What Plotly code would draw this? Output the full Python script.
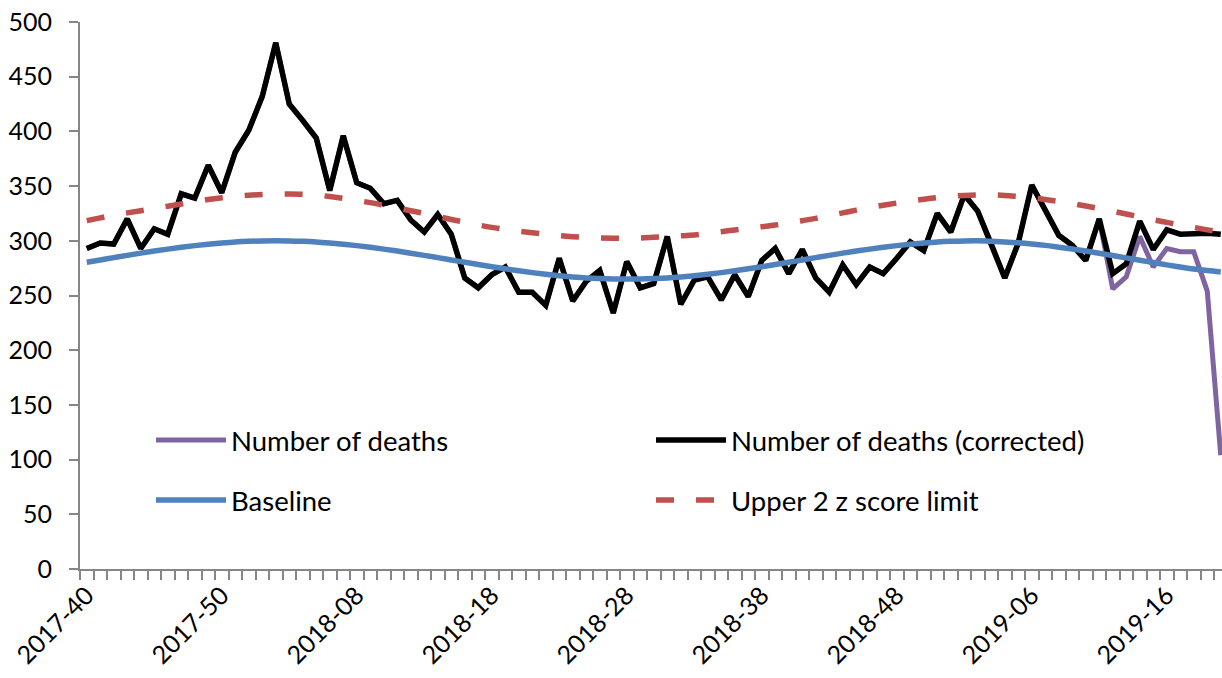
import plotly.graph_objects as go

# ISO weeks 2017-40 .. 2019-20
weeks = (
    [f"2017-{w:02d}" for w in range(40, 53)]
    + [f"2018-{w:02d}" for w in range(1, 53)]
    + [f"2019-{w:02d}" for w in range(1, 21)]
)
label_weeks = ["2017-40", "2017-50", "2018-08", "2018-18", "2018-28",
               "2018-38", "2018-48", "2019-06", "2019-16"]

deaths_corrected = [
    293, 298, 297, 320, 293, 311, 306, 343, 339, 369,
    344, 381, 401, 432, 481, 425, 410, 394, 346, 396,
    353, 348, 334, 337, 319, 308, 324, 306, 266, 257,
    269, 276, 253, 253, 241, 284, 245, 263, 273, 234,
    281, 257, 261, 304, 242, 264, 267, 246, 269, 249,
    282, 293, 270, 292, 266, 253, 278, 260, 276, 270,
    284, 299, 291, 325, 308, 342, 327, 298, 266, 298,
    351, 328, 305, 296, 282, 320, 270, 279, 318, 292,
    310, 306, 307, 307, 306,
]

deaths = [
    293, 298, 297, 320, 293, 311, 306, 343, 339, 369,
    344, 381, 401, 432, 481, 425, 410, 394, 346, 396,
    353, 348, 334, 337, 319, 308, 324, 306, 266, 257,
    269, 276, 253, 253, 241, 284, 245, 263, 273, 234,
    281, 257, 261, 304, 242, 264, 267, 246, 269, 249,
    282, 293, 270, 292, 266, 253, 278, 260, 276, 270,
    284, 299, 291, 325, 308, 342, 327, 298, 266, 298,
    351, 328, 305, 296, 282, 320, 256, 267, 304, 276,
    293, 290, 290, 254, 104,
]

baseline = [
    280.4, 282.5, 284.6, 286.7, 288.7, 290.6, 292.4, 294.1, 295.6, 296.9,
    298.0, 298.9, 299.5, 299.9, 300.0, 299.9, 299.5, 298.9, 298.0, 296.9,
    295.6, 294.1, 292.4, 290.6, 288.7, 286.7, 284.6, 282.5, 280.4, 278.3,
    276.3, 274.4, 272.6, 270.9, 269.4, 268.1, 267.0, 266.1, 265.5, 265.1,
    265.0, 265.1, 265.5, 266.1, 267.0, 268.1, 269.4, 270.9, 272.6, 274.4,
    276.3, 278.3, 280.4, 282.5, 284.6, 286.7, 288.7, 290.6, 292.4, 294.1,
    295.6, 296.9, 298.0, 298.9, 299.5, 299.9, 300.0, 299.6, 299.0, 298.2,
    297.1, 295.8, 294.2, 292.5, 290.6, 288.6, 286.5, 284.4, 282.2, 280.1,
    278.0, 276.1, 274.3, 272.8, 271.5,
]

upper_limit = [
    318.4, 321.0, 323.5, 325.5, 327.5, 329.5, 331.6, 333.6, 335.6, 337.8,
    339.4, 340.6, 341.6, 342.3, 342.7, 342.8, 342.6, 341.8, 340.5, 338.8,
    336.9, 334.9, 332.5, 330.0, 327.5, 325.0, 322.3, 319.5, 317.0, 314.5,
    312.3, 310.5, 308.8, 307.4, 306.0, 304.8, 303.8, 303.0, 302.5, 302.3,
    302.3, 302.6, 303.2, 303.8, 304.5, 305.3, 306.8, 308.3, 309.9, 311.4,
    312.9, 314.4, 316.4, 318.4, 320.5, 323.0, 325.5, 328.0, 330.3, 332.5,
    334.5, 336.3, 338.0, 339.5, 340.6, 341.5, 342.0, 342.0, 341.5, 340.5,
    339.4, 337.8, 336.0, 334.0, 331.8, 329.4, 327.0, 324.5, 321.8, 319.2,
    316.8, 314.5, 312.2, 310.0, 308.0,
]

FONT = "Lato, Arial, sans-serif"
W, H = 1222, 678
M_L, M_R, M_T, M_B = 80, 0, 22, 109
PLOT_W, PLOT_H = W - M_L - M_R, H - M_T - M_B

fig = go.Figure()
fig.add_trace(go.Scatter(x=weeks, y=deaths, mode="lines", name="Number of deaths",
                         line=dict(color="#8064A2", width=5), legend="legend"))
fig.add_trace(go.Scatter(x=weeks, y=deaths_corrected, mode="lines",
                         name="Number of deaths (corrected)",
                         line=dict(color="black", width=5.5), legend="legend2"))
fig.add_trace(go.Scatter(x=weeks, y=baseline, mode="lines", name="Baseline",
                         line=dict(color="#4F81BD", width=5.5, shape="spline"),
                         legend="legend3"))
fig.add_trace(go.Scatter(x=weeks, y=upper_limit, mode="lines",
                         name="Upper 2 z score limit",
                         line=dict(color="#C0504D", width=5.5, dash="18px,22px",
                                   shape="spline"),
                         legend="legend4"))


# one legend box per entry, placed inside the plot area (px -> paper)
def legend_at(px, py):
    return dict(x=(px - M_L) / PLOT_W, y=(H - M_B - py) / PLOT_H,
                xanchor="left", yanchor="middle", bgcolor="rgba(0,0,0,0)",
                font=dict(family=FONT, size=27.5, color="black"), itemwidth=70)


fig.update_layout(
    width=W,
    height=H,
    margin=dict(l=M_L, r=M_R, t=M_T, b=M_B, autoexpand=False),
    plot_bgcolor="white",
    paper_bgcolor="white",
    font=dict(family=FONT, size=25, color="black"),
    showlegend=True,
    legend=legend_at(151, 440),
    legend2=legend_at(651, 440),
    legend3=legend_at(151, 500),
    legend4=legend_at(651, 500),
    xaxis=dict(
        type="category",
        range=[-0.5, -0.5 + PLOT_W / 13.5],
        tickmode="array",
        tickvals=weeks,
        ticktext=[w if w in label_weeks else "" for w in weeks],
        tickson="boundaries",
        ticks="outside",
        ticklen=9,
        tickwidth=1.5,
        tickcolor="#868686",
        tickangle=-45,
        ticklabeloverflow="allow",
        showline=True,
        linecolor="#868686",
        linewidth=2,
        showgrid=False,
        zeroline=False,
    ),
    yaxis=dict(
        range=[0, 500],
        tickvals=[0, 50, 100, 150, 200, 250, 300, 350, 400, 450, 500],
        ticks="outside",
        ticklen=9,
        tickwidth=1.5,
        tickcolor="#868686",
        ticklabelstandoff=12,
        ticklabeloverflow="allow",
        showline=True,
        linecolor="#868686",
        linewidth=2,
        showgrid=False,
        zeroline=False,
    ),
)

# drop the default page margin so the figure fills the window exactly
fig.write_html(
    "out.html",
    config={"displayModeBar": False},
    post_script="document.body.style.margin='0';document.body.style.overflow='hidden';",
)
